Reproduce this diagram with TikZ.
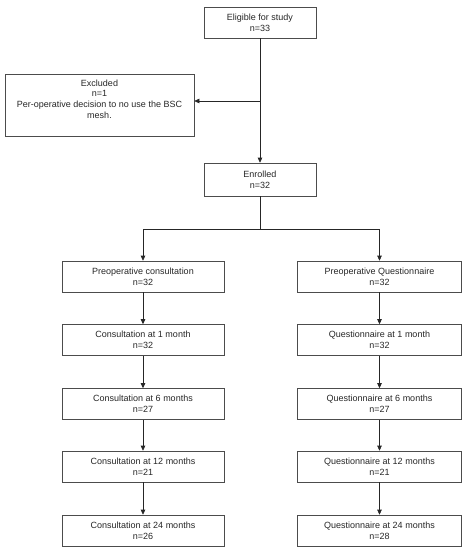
\documentclass[tikz,border=0pt]{standalone}
\usepackage{fontspec}
\setmainfont{Liberation Sans}
\usetikzlibrary{arrows.meta}
\begin{document}
\begin{tikzpicture}[x=1pt,y=-1pt,
  box/.style={draw=black!70, line width=0.6pt, inner sep=0pt, align=center,
    font=\fontsize{9}{10.8}\selectfont, text=black!85},
  colbox/.style={box, minimum height=31pt},
  conn/.style={draw=black!85, line width=0.6pt},
  arr/.style={conn, -{Triangle[width=4.5pt,length=5pt]}}]
\useasboundingbox (0,0) rectangle (465,550);
\node[box, minimum width=112pt, minimum height=31pt] (elig) at (260,22.5) {Eligible for study\\n=33};
\node[box, minimum width=189pt, minimum height=62pt] (excl) at (99.5,105) {Excluded\\n=1\\Per-operative decision to no use the BSC\\mesh.\\[1pt]\mbox{}};
\node[box, minimum width=112pt, minimum height=33pt] (enr) at (260,179.5) {Enrolled\\n=32};
\node[colbox, minimum width=162pt] (pc) at (143,276.5) {Preoperative consultation\\n=32};
\node[colbox, minimum width=164pt] (pq) at (379.5,276.5) {Preoperative Questionnaire\\n=32};
\node[colbox, minimum width=162pt] (c1) at (143,340) {Consultation at 1 month\\n=32};
\node[colbox, minimum width=164pt] (q1) at (379.5,340) {Questionnaire at 1 month\\n=32};
\node[colbox, minimum width=162pt] (c6) at (143,404) {Consultation at 6 months\\n=27};
\node[colbox, minimum width=164pt] (q6) at (379.5,404) {Questionnaire at 6 months\\n=27};
\node[colbox, minimum width=162pt] (c12) at (143,466.5) {Consultation at 12 months\\n=21};
\node[colbox, minimum width=164pt] (q12) at (379.5,466.5) {Questionnaire at 12 months\\n=21};
\node[colbox, minimum width=162pt] (c24) at (143,530.5) {Consultation at 24 months\\n=26};
\node[colbox, minimum width=164pt] (q24) at (379.5,530.5) {Questionnaire at 24 months\\n=28};
\draw[arr] (elig.south) -- (enr.north);
\coordinate (ex) at (elig.south |- 0,101);
\draw[arr] (ex) -- (ex -| excl.east);
\coordinate (br) at (enr.south |- 0,229);
\draw[conn] (enr.south) -- (br);
\draw[arr] (br) -| (pc.north);
\draw[arr] (br) -| (pq.north);
\draw[arr] (pc) -- (c1);
\draw[arr] (c1) -- (c6);
\draw[arr] (c6) -- (c12);
\draw[arr] (c12) -- (c24);
\draw[arr] (pq) -- (q1);
\draw[arr] (q1) -- (q6);
\draw[arr] (q6) -- (q12);
\draw[arr] (q12) -- (q24);
\end{tikzpicture}
\end{document}
